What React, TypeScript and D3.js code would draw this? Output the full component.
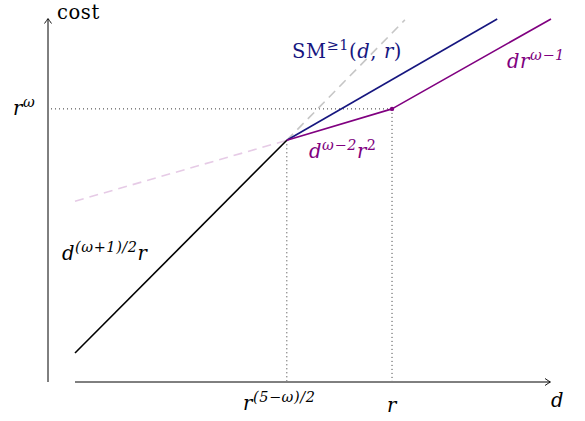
import { useEffect, useRef } from 'react'
import * as d3 from 'd3'

// all values in "log units"
const X_MAX = 100
const Y_MAX = 76.5

const breakD = 44.5 // r^{(5-w)/2}
const rD = 66.6 // r
const rOmega = 57.4 // r^w level

const blackLine: [number, number][] = [[0, 6.1], [breakD, 50.8]]
const blueLine: [number, number][] = [[breakD, 50.8], [88.7, 76.3]]
const purpleLine: [number, number][] = [[breakD, 50.8], [rD, rOmega], [100, 76.3]]
const grayDash: [number, number][] = [[breakD, 50.8], [69.3, 76.1]]
const lightPurpleDash: [number, number][] = [[0, 38.0], [breakD, 50.8]]

const NAVY = '#16167f'
const PURPLE = '#800080'
const SERIF = "'DejaVu Serif', serif"

export default function App() {
  const svgRef = useRef<SVGSVGElement>(null)
  const width = 585
  const height = 421

  useEffect(() => {
    if (!svgRef.current) return
    const svg = d3.select(svgRef.current)
    svg.selectAll('*').remove()

    const x = d3.scaleLinear().domain([0, X_MAX]).range([75, 551])
    const y = d3.scaleLinear().domain([0, Y_MAX]).range([382, 18])
    const line = d3.line<[number, number]>().x(d => x(d[0])).y(d => y(d[1]))

    // axes
    svg.append('line')
      .attr('x1', 48).attr('x2', 48).attr('y1', 382).attr('y2', 19)
      .attr('stroke', '#000').attr('stroke-width', 1)
    svg.append('path')
      .attr('d', 'M44.5,23.5 Q47,20 48,18.5 Q49,20 51.5,23.5')
      .attr('fill', 'none').attr('stroke', '#000').attr('stroke-width', 0.9)
    svg.append('line')
      .attr('x1', x(0)).attr('x2', 550).attr('y1', 382).attr('y2', 382)
      .attr('stroke', '#000').attr('stroke-width', 1)
    svg.append('path')
      .attr('d', 'M545,378.5 Q548.5,381 550.5,382 Q548.5,383 545,385.5')
      .attr('fill', 'none').attr('stroke', '#000').attr('stroke-width', 0.9)

    // dotted guides
    const dotted = (x1: number, y1: number, x2: number, y2: number) =>
      svg.append('line')
        .attr('x1', x1).attr('y1', y1).attr('x2', x2).attr('y2', y2)
        .attr('stroke', '#000').attr('stroke-width', 0.8)
        .attr('stroke-dasharray', '1 3')
    dotted(51, y(rOmega), x(rD), y(rOmega))
    dotted(x(breakD), y(50.8), x(breakD), 381)
    dotted(x(rD), y(rOmega), x(rD), 381)

    // dashed extensions
    svg.append('path').attr('d', line(lightPurpleDash))
      .attr('fill', 'none').attr('stroke', '#e6cbe6').attr('stroke-width', 1.6)
      .attr('stroke-dasharray', '9 6')
    svg.append('path').attr('d', line(grayDash))
      .attr('fill', 'none').attr('stroke', '#c6c6c6').attr('stroke-width', 1.6)
      .attr('stroke-dasharray', '9 6')

    svg.append('path').attr('d', line(blackLine))
      .attr('fill', 'none').attr('stroke', '#000').attr('stroke-width', 1.6)
    svg.append('path').attr('d', line(blueLine))
      .attr('fill', 'none').attr('stroke', NAVY).attr('stroke-width', 1.6)
    svg.append('path').attr('d', line(purpleLine))
      .attr('fill', 'none').attr('stroke', PURPLE).attr('stroke-width', 1.6)
      .attr('stroke-linejoin', 'round')
    svg.append('circle').attr('cx', x(rD)).attr('cy', y(rOmega)).attr('r', 2.2)
      .attr('fill', PURPLE)

    // labels: parts = [text, italic, super]
    type Part = [string, boolean, boolean]
    const label = (px: number, py: number, parts: Part[], color: string, size = 19.5) => {
      const t = svg.append('text')
        .attr('x', px).attr('y', py)
        .attr('fill', color)
        .style('font-family', SERIF)
        .attr('font-size', size)
        .attr('letter-spacing', 0.6)
      let up = false
      parts.forEach(([s, it, sup]) => {
        const ts = t.append('tspan').text(s)
          .attr('font-style', it ? 'italic' : 'normal')
          .attr('font-size', sup ? size * 0.74 : size)
        if (sup && !up) { ts.attr('dy', -size * 0.42); up = true }
        else if (!sup && up) { ts.attr('dy', size * 0.42); up = false }
      })
    }

    label(57, 19, [['cost', false, false]], '#000')
    label(13, 115, [['r', true, false], ['ω', true, true]], '#000')
    label(292, 58, [['SM', false, false], ['≥1', false, true], ['(', false, false], ['d', true, false], [', ', false, false], ['r', true, false], [')', false, false]], NAVY)
    label(507, 68, [['dr', true, false], ['ω−1', true, true]], PURPLE)
    label(309, 158, [['d', true, false], ['ω−2', true, true], ['r', true, false], ['2', false, true]], PURPLE)
    label(62, 260, [['d', true, false], ['(ω+1)/2', true, true], ['r', true, false]], '#000')
    label(243, 410, [['r', true, false], ['(5−ω)/2', true, true]], '#000')
    label(387, 412, [['r', true, false]], '#000')
    label(551, 407, [['d', true, false]], '#000')
  }, [])

  return (
    <svg
      ref={svgRef}
      width={width}
      height={height}
      style={{ position: 'absolute', left: 0, top: 0, background: '#fff' }}
    />
  )
}
